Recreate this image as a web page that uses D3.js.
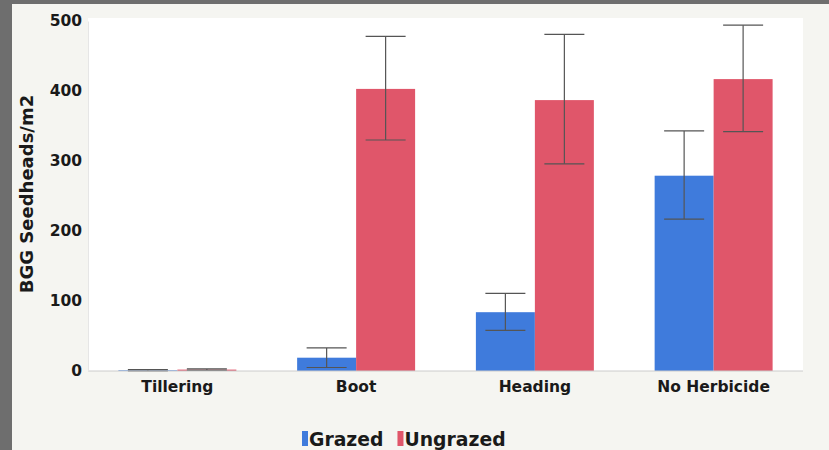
<!DOCTYPE html>
<html><head><meta charset="utf-8">
<script src="https://cdn.jsdelivr.net/npm/d3@7"></script>
<style>
html,body{margin:0;padding:0;background:#6e6e6e;}
svg{display:block;}
text{font-family:"DejaVu Sans",sans-serif;font-weight:bold;fill:#1a1a1a;}
</style></head>
<body>
<svg id="c" width="829" height="450"></svg>
<script>
const categories = ["Tillering", "Boot", "Heading", "No Herbicide"];
const seriesNames = ["Grazed", "Ungrazed"];
const grazed = [1, 19, 84, 279];
const grazedLow = [0, 5, 58, 217];
const grazedHigh = [2, 33, 111, 343];
const ungrazed = [2, 403, 387, 417];
const ungrazedLow = [1, 330, 296, 342];
const ungrazedHigh = [3, 478, 481, 494];
const yTicks = [0, 100, 200, 300, 400, 500];
const colors = ["#3f7bdc", "#e0566a"];

const svg = d3.select("#c");
svg.append("rect").attr("x",12).attr("y",4).attr("width",817).attr("height",446).attr("fill","#f5f5f1");

const m = {l:88, r:803, t:18, b:371};
svg.append("rect").attr("x",m.l).attr("y",m.t).attr("width",m.r-m.l).attr("height",m.b-m.t).attr("fill","#ffffff");

const x = d3.scaleBand().domain(categories).range([m.l, m.r]).paddingInner(0.34).paddingOuter(0.17);
const xs = d3.scaleBand().domain(seriesNames).range([0, x.bandwidth()]);
const y = d3.scaleLinear().domain([0, 500]).range([m.b, 21]);

const data = [];
categories.forEach((c,i)=>{
  data.push({c, s:"Grazed", v:grazed[i], lo:grazedLow[i], hi:grazedHigh[i], col:colors[0]});
  data.push({c, s:"Ungrazed", v:ungrazed[i], lo:ungrazedLow[i], hi:ungrazedHigh[i], col:colors[1]});
});

svg.append("g").selectAll("rect").data(data).enter().append("rect")
  .attr("x", d=>x(d.c)+xs(d.s))
  .attr("y", d=>y(d.v))
  .attr("width", xs.bandwidth())
  .attr("height", d=>y(0)-y(d.v))
  .attr("fill", d=>d.col);

// error bars
const eg = svg.append("g").attr("stroke","#555").attr("stroke-width",1.2);
data.forEach(d=>{
  const cx = x(d.c)+xs(d.s)+xs.bandwidth()/2;
  const cw = 20;
  eg.append("line").attr("x1",cx).attr("x2",cx).attr("y1",y(d.lo)).attr("y2",y(d.hi));
  eg.append("line").attr("x1",cx-cw).attr("x2",cx+cw).attr("y1",y(d.lo)).attr("y2",y(d.lo));
  eg.append("line").attr("x1",cx-cw).attr("x2",cx+cw).attr("y1",y(d.hi)).attr("y2",y(d.hi));
});

// baseline
svg.append("line").attr("x1",m.l).attr("x2",m.r).attr("y1",m.b).attr("y2",m.b).attr("stroke","#ccc");

// y axis
const ya = svg.append("g").attr("transform",`translate(${m.l},0)`)
  .call(d3.axisLeft(y).tickValues(yTicks).tickSize(0).tickPadding(6));
ya.select(".domain").attr("stroke","#e6e6e6");
ya.selectAll("text").attr("font-size",15.5).attr("dy","0.32em").style("font-family","DejaVu Sans, sans-serif").style("font-weight","bold").attr("fill","#1a1a1a");

// x axis
const xa = svg.append("g").attr("transform",`translate(0,${m.b})`)
  .call(d3.axisBottom(x).tickSize(0).tickPadding(10));
xa.select(".domain").remove();
xa.selectAll("text").attr("font-size",15.5).style("font-family","DejaVu Sans, sans-serif").style("font-weight","bold").attr("fill","#1a1a1a");

// y title
svg.append("text").attr("transform","translate(33,194) rotate(-90)").attr("text-anchor","middle")
  .attr("font-size",18).text("BGG Seedheads/m2");

// legend
const lg = svg.append("g");
let lx = 302;
seriesNames.forEach((s,i)=>{
  lg.append("rect").attr("x",lx).attr("y",431).attr("width",6).attr("height",15).attr("fill",colors[i]);
  const t = lg.append("text").attr("x",lx+7).attr("y",446).attr("font-size",18.8).text(s);
  lx += 7 + t.node().getComputedTextLength() + 14;
});
</script>
</body></html>
